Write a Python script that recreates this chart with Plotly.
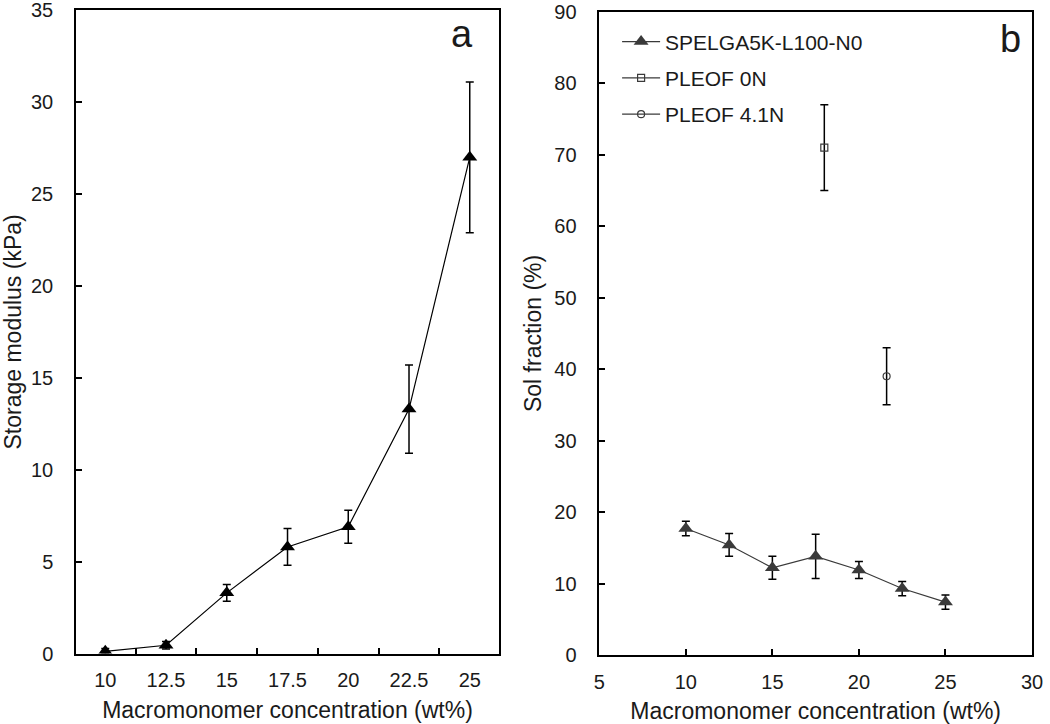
import plotly.graph_objects as go

# Panel a: storage modulus
conc_a = ["10", "12.5", "15", "17.5", "20", "22.5", "25"]
modulus = [0.12, 0.45, 3.3, 5.8, 6.9, 13.3, 27.0]
modulus_err = [0.15, 0.2, 0.45, 1.0, 0.9, 2.4, 4.1]

# Panel b: sol fraction
conc_b = [10, 12.5, 15, 17.5, 20, 22.5, 25]
sol = [17.7, 15.4, 12.2, 13.8, 11.9, 9.3, 7.4]
sol_err = [1.0, 1.6, 1.6, 3.1, 1.2, 1.0, 1.0]

pleof0_x = [18.0]
pleof0_y = [71.0]
pleof0_err = [6.0]

pleof41_x = [21.6]
pleof41_y = [39.0]
pleof41_err = [4.0]

FONT = "Liberation Sans, Arial, sans-serif"
TXT = "#1a1a1a"
fig = go.Figure()

fig.add_trace(go.Scatter(
    x=conc_a, y=modulus, mode="lines+markers", xaxis="x", yaxis="y",
    line=dict(color="black", width=1.2),
    marker=dict(symbol="triangle-up", size=13, color="black"),
    error_y=dict(type="data", array=modulus_err, color="black", thickness=1.5, width=4),
    showlegend=False,
))

gray = "#3a3a3a"
fig.add_trace(go.Scatter(
    x=conc_b, y=sol, mode="lines+markers", xaxis="x2", yaxis="y2",
    name="SPELGA5K-L100-N0", legendgroup="g1",
    line=dict(color=gray, width=1.2),
    marker=dict(symbol="triangle-up", size=13, color=gray),
    error_y=dict(type="data", array=sol_err, color="black", thickness=1.5, width=4),
))
fig.add_trace(go.Scatter(
    x=pleof0_x, y=pleof0_y, mode="lines+markers", xaxis="x2", yaxis="y2",
    name="PLEOF 0N", legendgroup="g2",
    line=dict(color=gray, width=1.2),
    marker=dict(symbol="square-open", size=7, color=gray, line=dict(width=1.2)),
    error_y=dict(type="data", array=pleof0_err, color="black", thickness=1.5, width=4),
))
fig.add_trace(go.Scatter(
    x=pleof41_x, y=pleof41_y, mode="lines+markers", xaxis="x2", yaxis="y2",
    name="PLEOF 4.1N", legendgroup="g3",
    line=dict(color=gray, width=1.2),
    marker=dict(symbol="circle-open", size=7, color=gray, line=dict(width=1.2)),
    error_y=dict(type="data", array=pleof41_err, color="black", thickness=1.5, width=4),
))

tickfont = dict(family=FONT, size=20, color=TXT)
titlefont = dict(family=FONT, size=23, color=TXT)
axis_common = dict(showline=True, linecolor="black", linewidth=1.5, mirror=True,
                   ticks="inside", ticklen=6, tickcolor="black", tickwidth=1.5,
                   showgrid=False, zeroline=False, tickfont=tickfont, automargin=False,
                   ticklabeloverflow="allow")

fig.update_layout(
    width=1050, height=724,
    margin=dict(l=76, r=18, t=9, b=69),
    paper_bgcolor="white", plot_bgcolor="white",
    font=dict(family=FONT, size=20, color=TXT),
    xaxis=dict(domain=[0.0, 0.4425], type="category", tickson="boundaries",
               title=dict(text="Macromonomer concentration (wt%)", font=titlefont, standoff=12),
               anchor="y", ticklabelstandoff=8, **axis_common),
    yaxis=dict(domain=[0.0023, 0.998], range=[0, 35], dtick=5,
               title=dict(text="Storage modulus (kPa)", font=titlefont, standoff=8),
               anchor="x", ticklabelstandoff=17, **axis_common),
    xaxis2=dict(domain=[0.5474, 1.0], range=[5, 30], dtick=5,
                title=dict(text="Macromonomer concentration (wt%)", font=titlefont, standoff=12),
                anchor="y2", ticklabelstandoff=8, **axis_common),
    yaxis2=dict(domain=[0.0, 0.9957], range=[0, 90], dtick=10,
                title=dict(text="Sol fraction (%)", font=titlefont, standoff=6),
                anchor="x2", ticklabelstandoff=17, **axis_common),
    legend=dict(x=0.566, y=0.9807, xanchor="left", yanchor="top",
                bgcolor="rgba(0,0,0,0)", font=dict(family=FONT, size=21, color=TXT),
                tracegroupgap=6, itemwidth=38),
    annotations=[
        dict(text="a", x=0.4038, y=0.962, xref="paper", yref="paper", showarrow=False,
             xanchor="center", yanchor="middle",
             font=dict(family=FONT, size=38, color=TXT)),
        dict(text="b", x=0.977, y=0.954, xref="paper", yref="paper", showarrow=False,
             xanchor="center", yanchor="middle",
             font=dict(family=FONT, size=38, color=TXT)),
    ],
)

# remove the browser's default 8px body margin so the figure fills the window
fig.write_html("out.html", config={"displayModeBar": False},
               post_script="document.body.style.margin='0';")
